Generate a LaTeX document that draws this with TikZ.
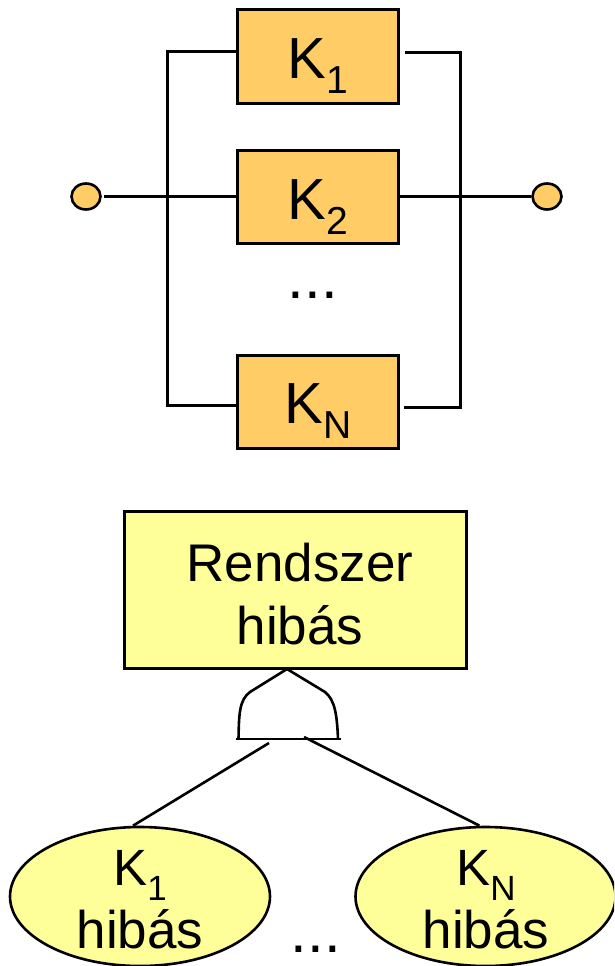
\documentclass[tikz,border=0pt]{standalone}
\usepackage{fontspec}
\setmainfont{Liberation Sans}
\usetikzlibrary{calc,shapes.geometric}
\definecolor{boxorange}{HTML}{FFCC66}
\definecolor{boxyellow}{HTML}{FFFF99}
\newcommand{\bigK}[1]{\fontsize{58}{60}\selectfont K\raisebox{-15pt}{\fontsize{39}{40}\selectfont #1}}
\newcommand{\smallK}[1]{\fontsize{51}{52}\selectfont K\raisebox{-15pt}{\fontsize{35}{36}\selectfont #1}}
\tikzset{
  x=1pt,y=-1pt,
  wire/.style={draw=black,line width=3pt,line cap=butt},
  thinwire/.style={draw=black,line width=2.6pt},
  compbox/.style={draw=black,line width=3pt,fill=boxorange,minimum width=161pt,minimum height=93pt,inner sep=0pt},
  terminal/.style={ellipse,draw=black,line width=2.6pt,fill=boxorange,minimum width=29pt,minimum height=26pt,inner sep=0pt},
  topbox/.style={draw=black,line width=3pt,fill=boxyellow,minimum width=342pt,minimum height=157pt,inner sep=0pt},
  event/.style={ellipse,draw=black,line width=2.6pt,fill=boxyellow,minimum width=260pt,minimum height=139pt,inner sep=0pt},
  label/.style={inner sep=0pt,anchor=base},
}
\begin{document}
\begin{tikzpicture}
\useasboundingbox (0,0) rectangle (614,966);
\begin{scope}
\clip (0,0) rectangle (614,966);
% top diagram
\node[compbox] (k1) at (317.5,56.5) {};
\node[compbox] (k2) at (317.5,196.5) {};
\node[compbox] (kn) at (317.5,401.5) {};
\node[terminal] (in) at (86,196.5) {};
\node[terminal] (out) at (547,196.5) {};
\node[label] (k1t) at (318,78) {\bigK{1}};
\node[label] (k2t) at (318,219) {\bigK{2}};
\node[label] (knt) at (318,423) {\bigK{N}};
\node[label] (dots1) at (313,298) {\fontsize{60}{60}\selectfont ...};
\coordinate (lt) at (167,52);
\coordinate (lb) at (167,405);
\coordinate (rt) at (460,53);
\coordinate (rb) at (460,407);
\coordinate (k1l) at (k1.west |- lt);
\coordinate (knl) at ($(kn.west |- lb)+(3,0)$);
\coordinate (k1r) at ($(k1.east |- rt)+(5,0)$);
\coordinate (knr) at ($(kn.east |- rb)+(4,0)$);
\coordinate (inw) at ($(in.east)+(2,0)$);
\draw[wire] (k1l) -- (lt) -- (lb) -- (knl);
\draw[wire] (k1r) -- (rt) -- (rb) -- (knr);
\draw[wire] (inw) -- (k2.west);
\draw[wire] (k2.east) -- (out.west);
% bottom diagram
\node[topbox] (sys) at (295,589.5) {};
\node[label] (syst1) at (300,581) {\fontsize{53}{54}\selectfont Rendszer};
\node[label] (syst2) at (300,644) {\fontsize{53}{54}\selectfont hibás};
\coordinate (apex) at (287,669);
\coordinate (gl) at (236,739);
\coordinate (gr) at (341,739);
\draw[thinwire] (gl) -- (gr);
\draw[thinwire,line join=round] (238.5,739) .. controls (239,715) and (239,700) .. (250,692)
   -- (apex) -- (325,692) .. controls (335,700) and (337,715) .. (338,739);
\node[event] (e1) at (140,896.5) {};
\node[event] (e2) at (485.5,896.5) {};
\node[label] (e1t1) at (140,885) {\smallK{1}};
\node[label] (e1t2) at (140,948) {\fontsize{53}{54}\selectfont hibás};
\node[label] (e2t1) at (486,885) {\smallK{N}};
\node[label] (e2t2) at (486,948) {\fontsize{53}{54}\selectfont hibás};
\node[label] (dots2) at (316,952) {\fontsize{60}{60}\selectfont ...};
\coordinate (gatel) at (269,743);
\coordinate (gater) at (304,737);
\draw[thinwire] (gatel) -- ($(e1.north)+(-7,0)$);
\draw[thinwire] (gater) -- ($(e2.north)+(-6,0)$);
\end{scope}
\end{tikzpicture}
\end{document}
